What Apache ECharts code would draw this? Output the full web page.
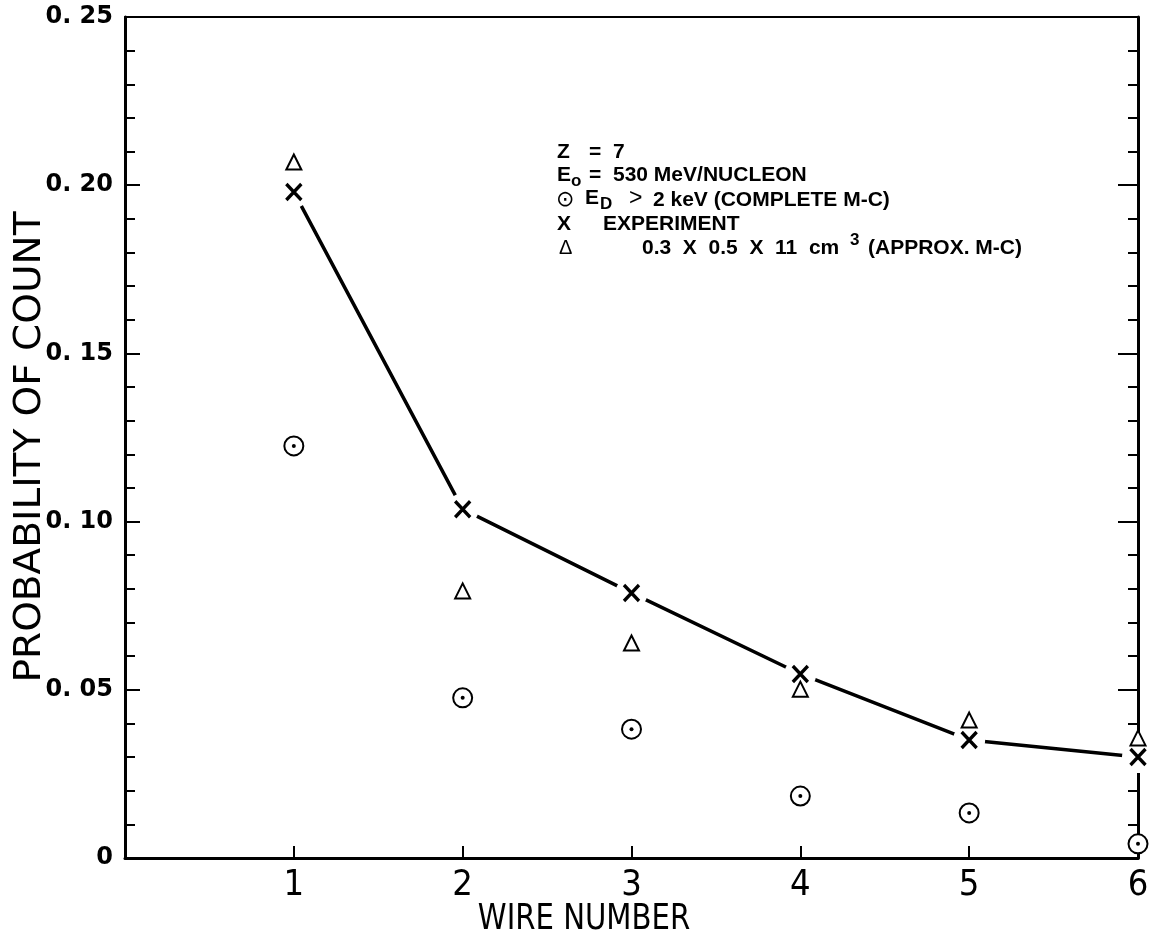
<!DOCTYPE html>
<html>
<head>
<meta charset="utf-8">
<script src="https://cdn.jsdelivr.net/npm/echarts@6/dist/echarts.min.js"></script>
<style>
html,body{margin:0;padding:0;background:#fff;}
#chart{width:1152px;height:944px;}
</style>
</head>
<body>
<div id="chart"></div>
<script>
// ---- data ----
const wireNumbers = [1, 2, 3, 4, 5, 6];
const experiment = [0.198, 0.1037, 0.0788, 0.0547, 0.0351, 0.0300];      // X, joined by line
const approxMC = [0.2069, 0.0794, 0.0639, 0.0502, 0.0410, 0.0357];       // triangles
const completeMC = [0.1225, 0.0476, 0.0383, 0.0184, 0.0134, 0.0042];     // circled dots
const yTicks = [0, 0.05, 0.10, 0.15, 0.20, 0.25];
const xTickLabels = ['1', '2', '3', '4', '5', '6'];

const pairs = (ys) => ys.map((v, i) => [wireNumbers[i], v]);

const chart = echarts.init(document.getElementById('chart'), null, {renderer: 'canvas'});

const xPath = 'path://M0,0L10,10M10,0L0,10';
const narrow = '"Liberation Sans Narrow","DejaVu Sans Condensed","Liberation Sans",sans-serif';
const legendFont = '"Liberation Sans",Arial,sans-serif';

function txt(x, y, s, size, style) {
  return {
    type: 'text', x: x, y: y, z: 100,
    style: Object.assign({
      text: s, fill: '#000', fontSize: size, fontWeight: 'bold',
      fontFamily: legendFont, verticalAlign: 'middle', align: 'left'
    }, style || {})
  };
}

const legendGraphics = [
  txt(557, 152, 'Z', 21), txt(589, 152, '=', 21), txt(613, 152, '7', 21),
  txt(557, 175, 'E', 21), txt(571, 181, 'o', 17), txt(589, 175, '=', 21), txt(613, 175, '530 MeV/NUCLEON', 21),
  txt(556, 200, '\u2299', 22, {fontWeight: 'normal', fontFamily: '"DejaVu Sans",sans-serif'}),
  txt(585, 198, 'E', 21), txt(600, 204, 'D', 17), txt(629, 199, '>', 23, {fontWeight: 'normal'}), txt(653, 200, '2 keV (COMPLETE M-C)', 21),
  txt(557, 224, 'X', 21), txt(603, 224, 'EXPERIMENT', 21),
  txt(559, 248, '\u0394', 20, {fontWeight: 'normal'}),
  txt(642, 248, '0.3  X  0.5  X  11  cm', 21), txt(850, 240, '3', 17), txt(868, 248, '(APPROX. M-C)', 21),
  // axis titles
  {type: 'text', x: 30, y: 447, rotation: Math.PI / 2, scaleX: 1.14, z: 100,
   style: {text: 'PROBABILITY OF COUNT', fontSize: 38, fontFamily: narrow, fill: '#000', align: 'center', verticalAlign: 'middle'}},
  {type: 'text', x: 584, y: 920, scaleX: 0.9, z: 100,
   style: {text: 'WIRE NUMBER', fontSize: 36, fontFamily: narrow, fill: '#000', align: 'center', verticalAlign: 'middle'}}
];

const option = {
  backgroundColor: '#fff',
  animation: false,
  grid: {left: 125, right: 14, top: 17, bottom: 86, containLabel: false},
  xAxis: [
    {type: 'value', min: 0, max: 6, interval: 1, position: 'bottom',
     axisLine: {show: true, onZero: false, lineStyle: {color: '#000', width: 3}},
     axisTick: {show: true, inside: true, length: 12, lineStyle: {color: '#000', width: 2}},
     axisLabel: {show: true, margin: 10, fontSize: 36, fontFamily: narrow, color: '#000',
       formatter: (v) => { const i = wireNumbers.indexOf(v); return i >= 0 ? xTickLabels[i] : ''; }},
     splitLine: {show: false}},
    {type: 'value', min: 0, max: 6, interval: 1, position: 'top',
     axisLine: {show: true, onZero: false, lineStyle: {color: '#000', width: 2}},
     axisTick: {show: false}, axisLabel: {show: false}, splitLine: {show: false}}
  ],
  yAxis: [
    {type: 'value', min: 0, max: 0.25, interval: 0.05, position: 'left',
     axisLine: {show: true, onZero: false, lineStyle: {color: '#000', width: 3}},
     axisTick: {show: true, inside: true, length: 15, lineStyle: {color: '#000', width: 2}},
     minorTick: {show: true, splitNumber: 5, length: 10, lineStyle: {color: '#000', width: 2}},
     axisLabel: {show: true, margin: 12, fontSize: 24, fontWeight: 'bold', color: '#000',
       fontFamily: '"DejaVu Sans",sans-serif',
       formatter: (v) => { const t = yTicks.find(a => Math.abs(a - v) < 1e-9); if (t === undefined) return ''; return t === 0 ? '0' : t.toFixed(2).replace('.', '. '); }},
     splitLine: {show: false}, minorSplitLine: {show: false}},
    {type: 'value', min: 0, max: 0.25, interval: 0.05, position: 'right',
     axisLine: {show: true, onZero: false, lineStyle: {color: '#000', width: 3}},
     axisTick: {show: true, inside: true, length: 20, lineStyle: {color: '#000', width: 2}},
     minorTick: {show: true, splitNumber: 5, length: 10, lineStyle: {color: '#000', width: 2}},
     axisLabel: {show: false}, splitLine: {show: false}, minorSplitLine: {show: false}}
  ],
  series: [
    {name: 'Experiment line', type: 'line', xAxisIndex: 0, yAxisIndex: 0, data: pairs(experiment),
     symbol: 'none', lineStyle: {color: '#000', width: 3.5}, z: 2, silent: true},
    {name: 'gap', type: 'scatter', data: pairs(experiment), symbol: 'circle', symbolSize: 32,
     itemStyle: {color: '#fff', opacity: 1}, z: 3, silent: true},
    {name: 'Complete M-C', type: 'scatter', data: pairs(completeMC), symbol: 'circle', symbolSize: 19,
     itemStyle: {color: '#fff', borderColor: '#000', borderWidth: 2, opacity: 1}, z: 4},
    {name: 'Complete M-C dot', type: 'scatter', data: pairs(completeMC), symbol: 'circle', symbolSize: 4,
     itemStyle: {color: '#000', opacity: 1}, z: 5},
    {name: 'Approx M-C', type: 'scatter', data: pairs(approxMC), symbol: 'triangle', symbolSize: [15, 15],
     itemStyle: {color: '#fff', borderColor: '#000', borderWidth: 2, opacity: 1}, z: 6},
    {name: 'Experiment', type: 'scatter', data: pairs(experiment), symbol: xPath, symbolSize: [15, 16],
     itemStyle: {color: 'rgba(0,0,0,0)', borderColor: '#000', borderWidth: 3.5, opacity: 1}, z: 7}
  ],
  graphic: legendGraphics
};
chart.setOption(option);
</script>
</body>
</html>
